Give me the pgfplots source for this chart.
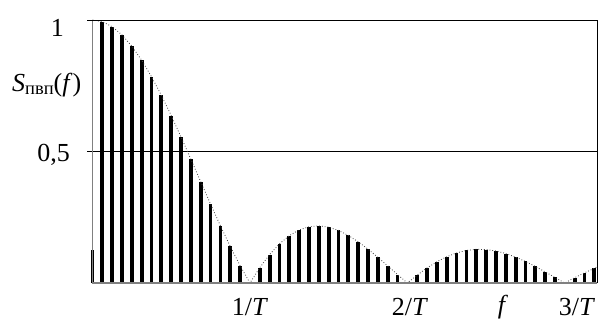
\documentclass[border=0pt]{standalone}
\usepackage{pgfplots}
\pgfplotsset{compat=1.18}
\usepackage{pgfplotstable}
\usepackage{fontspec}
\setmainfont{Liberation Serif}
\newcommand\lblfont{\fontsize{26bp}{30bp}\selectfont}
\newcommand\subfont{\fontsize{18.5bp}{20bp}\selectfont}

\pgfplotstableread{
k v
0 0.125
1 0.9936
2 0.9745
3 0.9432
4 0.9003
5 0.8469
6 0.7842
7 0.7136
8 0.6366
9 0.5550
10 0.4705
11 0.3850
12 0.3001
13 0.2177
14 0.1392
15 0.0662
17 0.0584
18 0.1083
19 0.1489
20 0.1801
21 0.2017
22 0.2139
23 0.2172
24 0.2122
25 0.1998
26 0.1810
27 0.1568
28 0.1286
29 0.0976
30 0.0650
31 0.0321
33 0.0301
34 0.0573
35 0.0808
36 0.1000
37 0.1144
38 0.1238
39 0.1281
40 0.1273
41 0.1218
42 0.1120
43 0.0985
44 0.0818
45 0.0629
46 0.0424
47 0.0211
49 0.0203
50 0.0390
51 0.0555
}\bars

\pgfplotstableread{
k v
0 1.0
1 0.9936
2 0.9745
3 0.9432
4 0.9003
5 0.8469
6 0.7842
7 0.7136
8 0.6366
9 0.5550
10 0.4705
11 0.3850
12 0.3001
13 0.2177
14 0.1392
15 0.0662
16 0
17 0.0584
18 0.1083
19 0.1489
20 0.1801
21 0.2017
22 0.2139
23 0.2172
24 0.2122
25 0.1998
26 0.1810
27 0.1568
28 0.1286
29 0.0976
30 0.0650
31 0.0321
32 0
33 0.0301
34 0.0573
35 0.0808
36 0.1000
37 0.1144
38 0.1238
39 0.1281
40 0.1273
41 0.1218
42 0.1120
43 0.0985
44 0.0818
45 0.0629
46 0.0424
47 0.0211
48 0
49 0.0203
50 0.0390
51 0.0555
51.27 0.0620
}\env

\begin{document}
\begin{tikzpicture}
\path[use as bounding box] (-92.5bp,-43bp) rectangle (517.5bp,283bp);
\begin{axis}[
  at={(0,0)}, anchor=south west,
  scale only axis, width=504.5bp, height=263bp,
  xmin=0, xmax=51.27, ymin=0, ymax=1,
  axis line style={draw=none},
  xtick=\empty,
  ytick={0.5,1}, yticklabels={},
  ytick pos=left, tick align=outside,
  major tick length=5bp,
  tick style={black, line width=0.8bp},
  ymajorgrids, grid style={black, line width=0.9bp},
  clip=false,
]
\addplot[ycomb, black, line width=3.8bp, mark=none] table[x=k, y=v] {\bars};
\addplot[sharp plot, dotted, black!75, line width=0.8bp, mark=none] table[x=k, y=v] {\env};
\draw[gray, line width=1.2bp] (rel axis cs:0,1) -- (rel axis cs:0,0) -- (rel axis cs:1,0);
\draw[black, line width=0.9bp] (rel axis cs:0,1) -- (rel axis cs:1,1) -- (rel axis cs:1,0);
\node[font=\lblfont] at (axis cs:-3.56,0.97) {1};
\node[font=\lblfont] at (axis cs:-3.96,0.487) {0,5};
\node[font=\lblfont] at (axis cs:-4.65,0.753) {\textit{S}\raisebox{-0.3ex}{\subfont пвп}(\textit{f})};
\node[font=\lblfont] at (axis cs:16.0,-0.091) {1/\textit{T}};
\node[font=\lblfont] at (axis cs:32.27,-0.091) {2/\textit{T}};
\node[font=\lblfont] at (axis cs:41.72,-0.091) {\textit{f}};
\node[font=\lblfont] at (axis cs:49.24,-0.091) {3/\textit{T}};
\end{axis}
\end{tikzpicture}
\end{document}
